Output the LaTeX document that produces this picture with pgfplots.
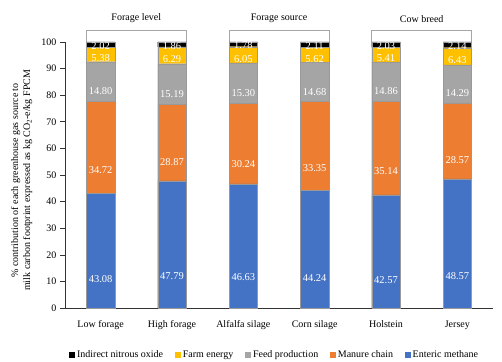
\documentclass[border=0pt]{standalone}
\usepackage{fontspec}
\setmainfont{Liberation Serif}
\usepackage{pgfplots}
\pgfplotsset{compat=1.18}
\definecolor{cblue}{HTML}{4472C4}
\definecolor{corange}{HTML}{ED7D31}
\definecolor{cgray}{HTML}{A5A5A5}
\definecolor{cyellow}{HTML}{FFC000}
\definecolor{cblack}{HTML}{000000}
\definecolor{boxgray}{HTML}{A6A6A6}
\begin{document}
\begin{tikzpicture}
\begin{axis}[
  scale only axis,
  width=428pt, height=266pt,
  ybar stacked,
  bar width=0.4,
  xmin=-0.5, xmax=5.5,
  ymin=0, ymax=100,
  clip=false,
  axis x line*=bottom,
  axis y line*=left,
  axis line style={black!80, line width=0.6pt},
  xtick={0,...,5},
  xticklabels={Low forage, High forage, Alfalfa silage, Corn silage, Holstein, Jersey},
  x tick style={draw=none},
  major x tick style={draw=none},
  xticklabel style={yshift=-4pt, font=\fontsize{10}{12}\selectfont},
  ytick={0,10,...,100},
  tick align=outside,
  major tick length=5pt,
  y tick style={black!80, line width=0.6pt},
  yticklabel style={font=\fontsize{10}{12}\selectfont},
  /pgf/number format/assume math mode=true,
  ylabel={\% contribution of each greenhouse gas source to\\milk carbon footprint expressed as kg CO\textsubscript{2}-e/kg FPCM},
  every axis y label/.style={at={(axis description cs:-0.101,0.48)}, rotate=90, anchor=center, align=center, font=\fontsize{10}{12}\selectfont},
  point meta=explicit symbolic,
  nodes near coords,
  visualization depends on={rawy \as \rawyval},
  every node near coord/.append style={anchor=center, yshift={-0.665pt*\rawyval}, text=white, font=\fontsize{10.5}{12}\selectfont, inner sep=0pt},
  legend columns=-1,
  reverse legend,
  legend style={draw=none, at={(axis description cs:0.49,-0.177)}, anchor=center, font=\fontsize{10}{12}\selectfont,
    /tikz/every even column/.append style={column sep=10pt}},
  legend image code/.code={\draw[#1, draw=none] (0pt,-2.8pt) rectangle (5.6pt,2.8pt);},
  every axis plot/.append style={draw=black!40, line width=0.25pt},
]
\addplot[fill=cblue] coordinates {(0,43.08) [43.08] (1,47.79) [47.79] (2,46.63) [46.63] (3,44.24) [44.24] (4,42.57) [42.57] (5,48.57) [48.57]};
\addlegendentry{Enteric methane}
\addplot[fill=corange] coordinates {(0,34.72) [34.72] (1,28.87) [28.87] (2,30.24) [30.24] (3,33.35) [33.35] (4,35.14) [35.14] (5,28.57) [28.57]};
\addlegendentry{Manure chain}
\addplot[fill=cgray] coordinates {(0,14.80) [14.80] (1,15.19) [15.19] (2,15.30) [15.30] (3,14.68) [14.68] (4,14.86) [14.86] (5,14.29) [14.29]};
\addlegendentry{Feed production}
\addplot[fill=cyellow] coordinates {(0,5.38) [5.38] (1,6.29) [6.29] (2,6.05) [6.05] (3,5.62) [5.62] (4,5.41) [5.41] (5,6.43) [6.43]};
\addlegendentry{Farm energy}
\addplot[fill=cblack] coordinates {(0,2.02) [2.02] (1,1.86) [1.86] (2,1.78) [1.78] (3,2.11) [2.11] (4,2.03) [2.03] (5,2.14) [2.14]};
\addlegendentry{Indirect nitrous oxide}
\draw[boxgray, line width=0.8pt] (axis cs:-0.2,100) -- (axis cs:-0.2,104.3) -- (axis cs:1.2,104.3) -- (axis cs:1.2,100);
\draw[boxgray, line width=0.8pt] (axis cs:1.8,100) -- (axis cs:1.8,104.3) -- (axis cs:3.2,104.3) -- (axis cs:3.2,100);
\draw[boxgray, line width=0.8pt] (axis cs:3.8,100) -- (axis cs:3.8,104.3) -- (axis cs:5.2,104.3) -- (axis cs:5.2,100);
\node[font=\fontsize{10}{12}\selectfont] at (axis cs:0.5,108.8) {Forage level};
\node[font=\fontsize{10}{12}\selectfont] at (axis cs:2.5,108.8) {Forage source};
\node[font=\fontsize{10}{12}\selectfont] at (axis cs:4.5,108.8) {Cow breed};
\end{axis}
\pgfresetboundingbox
\path[use as bounding box] ([xshift=-65pt,yshift=-53pt]current axis.south west) rectangle ([xshift=9pt,yshift=42pt]current axis.north east);
\end{tikzpicture}
\end{document}
